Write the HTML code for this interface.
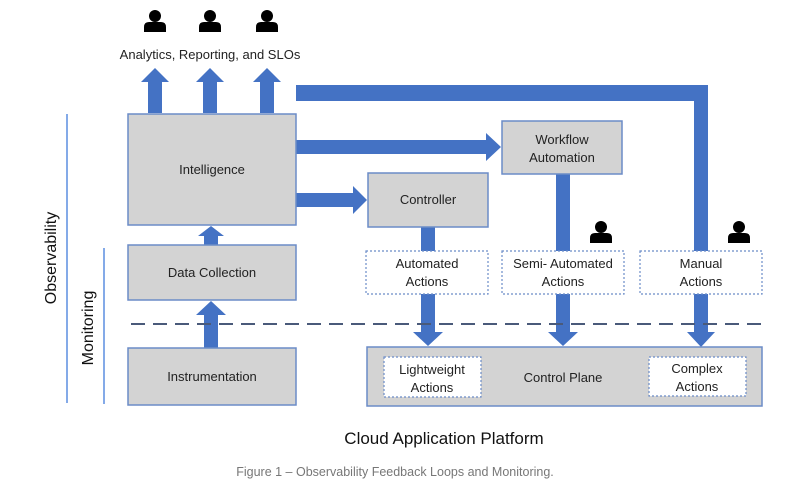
<!DOCTYPE html>
<html><head><meta charset="utf-8"><style>
html,body{margin:0;padding:0;background:#fff;}
svg{display:block;font-family:"Liberation Sans",sans-serif;}
</style></head><body>
<svg width="794" height="491" viewBox="0 0 794 491" xmlns="http://www.w3.org/2000/svg">
<defs>
<g id="person"><circle cx="0" cy="-6" r="6" fill="#000"/><path d="M-11,10 L-11,5 Q-11,0 -6,0 L6,0 Q11,0 11,5 L11,10 Z" fill="#000"/></g>
</defs>
<g fill="#4472c4">
<!-- up arrows -->
<polygon points="148,113 148,82 141,82 155,68 169,82 162,82 162,113"/>
<polygon points="203,113 203,82 196,82 210,68 224,82 217,82 217,113"/>
<polygon points="260,113 260,82 253,82 267,68 281,82 274,82 274,113"/>
<!-- top route -->
<polygon points="296,85 708,85 708,332 715,332 701,347 687,332 694,332 694,101 296,101"/>
<!-- intel to workflow -->
<polygon points="296,140 486,140 486,133 501,147 486,161 486,154 296,154"/>
<!-- intel to controller -->
<polygon points="296,193 353,193 353,186 367,200 353,214 353,207 296,207"/>
<!-- data to intel -->
<polygon points="204,245 204,236 198,236 211,226 224,236 218,236 218,245"/>
<!-- instr to data -->
<polygon points="204,348 204,315 196,315 211,301 226,315 218,315 218,348"/>
<!-- controller down -->
<rect x="421" y="227" width="14" height="24"/>
<polygon points="421,294 435,294 435,332 443,332 428,346 413,332 421,332"/>
<!-- workflow down -->
<rect x="556" y="174" width="14" height="77"/>
<polygon points="556,294 570,294 570,332 578,332 563,346 548,332 556,332"/>
</g>
<!-- dashed line -->
<line x1="131" y1="324" x2="765" y2="324" stroke="#4a5a7a" stroke-width="2" stroke-dasharray="14,8"/>
<!-- side lines -->
<line x1="67" y1="114" x2="67" y2="403" stroke="#5b8de0" stroke-width="1.5"/>
<line x1="104" y1="248" x2="104" y2="404" stroke="#5b8de0" stroke-width="1.5"/>
<text transform="translate(56,258) rotate(-90)" font-size="16" text-anchor="middle" fill="#111">Observability</text>
<text transform="translate(93,328) rotate(-90)" font-size="16" text-anchor="middle" fill="#111">Monitoring</text>
<!-- boxes -->
<g fill="#d3d3d3" stroke="#6b8cc7" stroke-width="1.5">
<rect x="128" y="114" width="168" height="111"/>
<rect x="128" y="245" width="168" height="55"/>
<rect x="128" y="348" width="168" height="57"/>
<rect x="368" y="173" width="120" height="54"/>
<rect x="502" y="121" width="120" height="53"/>
<rect x="367" y="347" width="395" height="59"/>
</g>
<g fill="#fff" stroke="#6b8cc7" stroke-width="1.2" stroke-dasharray="2,2">
<rect x="366" y="251" width="122" height="43"/>
<rect x="502" y="251" width="122" height="43"/>
<rect x="640" y="251" width="122" height="43"/>
<rect x="384" y="357" width="97" height="40"/>
<rect x="649" y="357" width="97" height="39"/>
</g>
<g font-size="13" fill="#222" text-anchor="middle">
<text x="212" y="174">Intelligence</text>
<text x="212" y="277">Data Collection</text>
<text x="212" y="381">Instrumentation</text>
<text x="428" y="204">Controller</text>
<text x="562" y="144">Workflow</text><text x="562" y="162">Automation</text>
<text x="427" y="268">Automated</text><text x="427" y="286">Actions</text>
<text x="563" y="268">Semi- Automated</text><text x="563" y="286">Actions</text>
<text x="701" y="268">Manual</text><text x="701" y="286">Actions</text>
<text x="432" y="374">Lightweight</text><text x="432" y="392">Actions</text>
<text x="563" y="382">Control Plane</text>
<text x="697" y="373">Complex</text><text x="697" y="391">Actions</text>
<text x="210" y="59">Analytics, Reporting, and SLOs</text>
</g>
<text x="444" y="444" font-size="17" fill="#111" text-anchor="middle">Cloud Application Platform</text>
<text x="395" y="476" font-size="12.5" fill="#777" text-anchor="middle">Figure 1 – Observability Feedback Loops and Monitoring.</text>
<use href="#person" x="155" y="22"/>
<use href="#person" x="210" y="22"/>
<use href="#person" x="267" y="22"/>
<use href="#person" x="601" y="233"/>
<use href="#person" x="739" y="233"/>
</svg>
</body></html>
